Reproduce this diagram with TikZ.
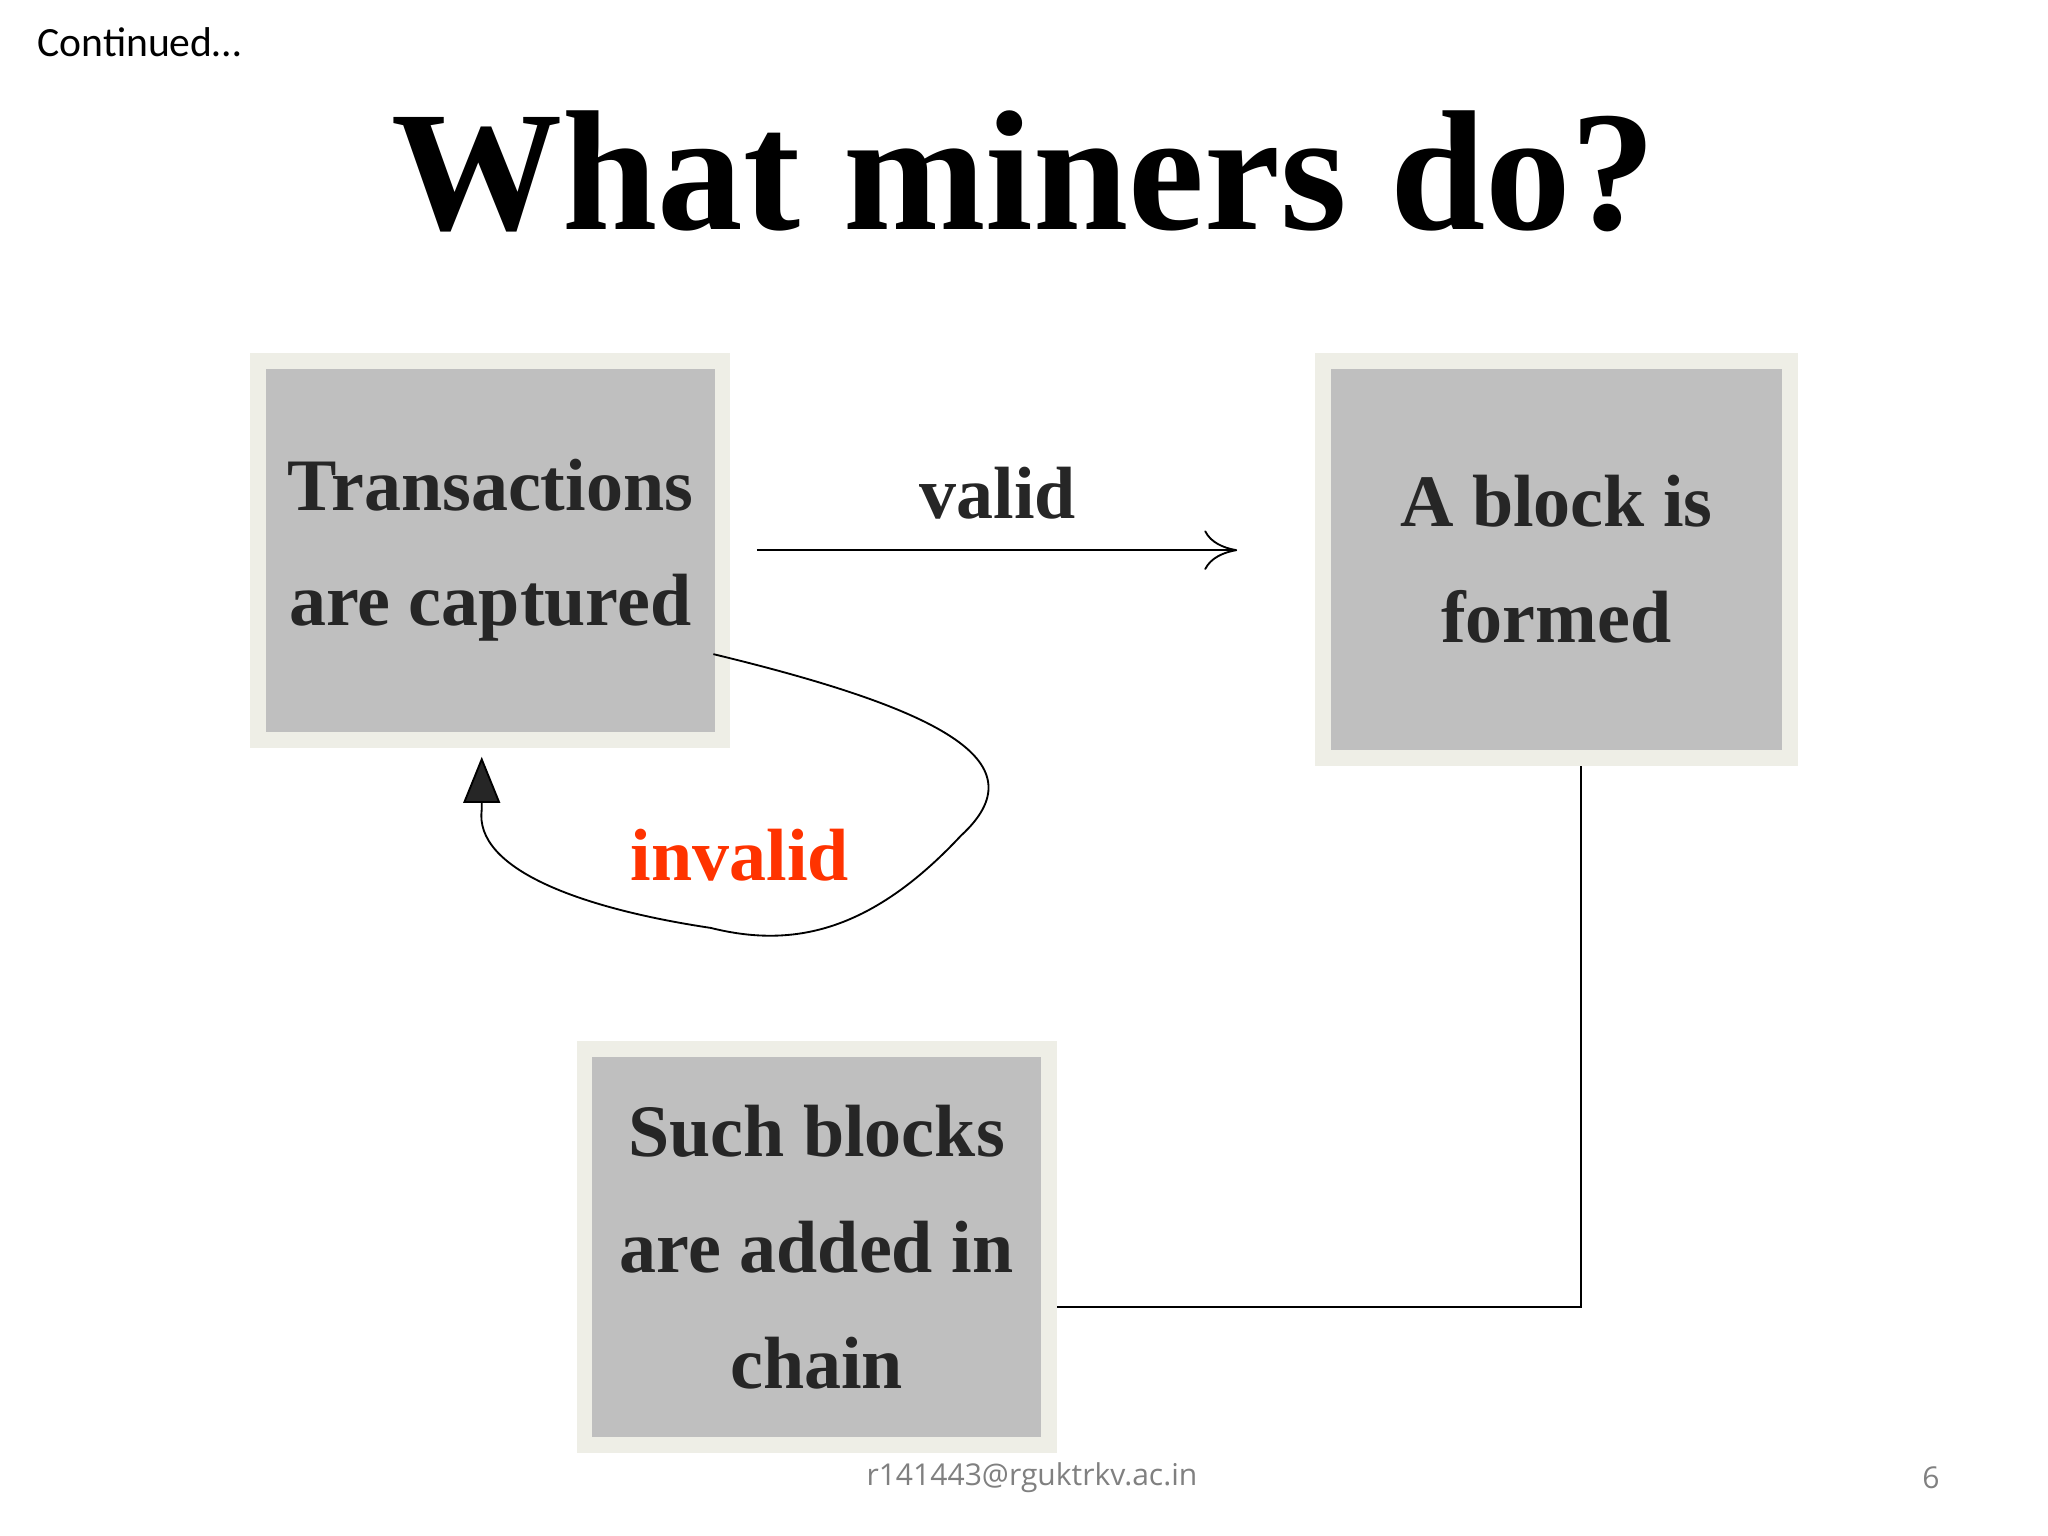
\documentclass[tikz,border=0pt]{standalone}
\usepackage{fontspec}
\setmainfont{Liberation Serif}
\newfontfamily\slidefont{Carlito}
\newfontfamily\footfont{Open Sans}
\usetikzlibrary{calc,arrows.meta}
\definecolor{boxgray}{HTML}{BFBFBF}
\definecolor{boxrim}{HTML}{EEEEE6}
\definecolor{textgray}{HTML}{262626}
\definecolor{invalidred}{HTML}{FF3300}
\tikzset{
  stepbox/.style={draw=boxrim,line width=1.2mm,fill=boxgray,text=textgray,
    font=\bfseries\fontsize{16}{25}\selectfont,align=center,inner sep=0pt}
}
\begin{document}
\begin{tikzpicture}
  \useasboundingbox (0,0) rectangle (15.56,-11.67);

  \node (T) at (0.16,-0.32) [anchor=west,font=\slidefont\fontsize{9}{10}\selectfont] {Continued…};
  \node (title) at (7.78,-1.3) [font=\bfseries\fontsize{37}{40}\selectfont] {What miners do?};

  \node (Tx) at (3.725,-4.18) [stepbox,minimum width=3.53cm,minimum height=2.88cm] {Transactions\\are captured};
  \node (Bl) at (11.825,-4.25) [stepbox,minimum width=3.55cm,minimum height=3.02cm] {A block is\\formed};
  \node (Ch) at (6.205,-9.475) [stepbox,minimum width=3.53cm,minimum height=3.01cm] {Such blocks\\are added in\\chain};

  \coordinate (vs) at (5.75,-4.18);
  \coordinate (ve) at (9.4,-4.18);
  \coordinate (corner) at (12.01,-9.93);

\draw (7.58,-3.75) node [text=textgray,font=\bfseries\fontsize{16}{18}\selectfont] {valid};
\draw (5.62,-6.5) node [text=invalidred,font=\bfseries\fontsize{16}{18}\selectfont] {invalid};
\draw (7.84,-11.23) node [text=gray,font=\footfont\fontsize{6.5}{8}\selectfont] {r141443@rguktrkv.ac.in};
\draw (14.67,-11.23) node [text=gray,font=\footfont\fontsize{6.5}{8}\selectfont] {6};

\draw [-{To[length=2.5mm,width=3mm]}] (vs) to (ve);

\draw [-{Triangle[length=3.5mm,width=2.8mm,fill=textgray]}]
   (5.42,-4.97) .. controls (7.2,-5.4) and (7.9,-5.8) .. (7.3,-6.35)
   .. controls (6.6,-7.1) and (6.0,-7.2) .. (5.4,-7.05)
   .. controls (4.4,-6.9) and (3.6,-6.6) .. (3.66,-6.15) to (3.66,-5.75);

\draw (Bl.south -| corner) to (corner) to (corner -| Ch.east);
\end{tikzpicture}
\end{document}
